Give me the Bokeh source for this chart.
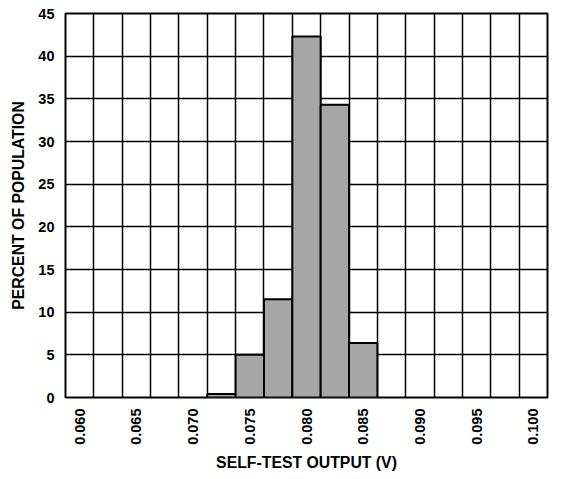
import math
from bokeh.plotting import figure
from bokeh.models import FixedTicker, Range1d, Label
from bokeh.embed import file_html
from bokeh.resources import INLINE

# Data (bin centers in volts, percent of population)
bin_centers = [0.0725, 0.0750, 0.0775, 0.0800, 0.0825, 0.0850]
percent = [0.4, 5.0, 11.5, 42.3, 34.3, 6.4]
bin_width = 0.0025

x_tick_values = [0.060, 0.065, 0.070, 0.075, 0.080, 0.085, 0.090, 0.095, 0.100]
x_tick_labels = ["0.060", "0.065", "0.070", "0.075", "0.080", "0.085", "0.090", "0.095", "0.100"]
y_tick_values = [0, 5, 10, 15, 20, 25, 30, 35, 40, 45]

x_min = 0.060 - bin_width / 2
x_max = 0.100 + bin_width / 2
n_cells = int(round((x_max - x_min) / bin_width))
grid_edges = [x_min + i * bin_width for i in range(n_cells + 1)]

FONT = "Liberation Sans"

p = figure(width=573, height=479, output_backend="svg", toolbar_location=None,
           x_range=Range1d(x_min, x_max), y_range=Range1d(0, 45),
           min_border_left=65, min_border_right=26, min_border_top=13, min_border_bottom=82)

p.vbar(x=bin_centers, top=percent, width=bin_width, bottom=0,
       fill_color="#a6a6a6", line_color="black", line_width=2)

# axes
p.xaxis.ticker = FixedTicker(ticks=x_tick_values)
p.xaxis.major_label_overrides = {v: s for v, s in zip(x_tick_values, x_tick_labels)}
p.yaxis.ticker = FixedTicker(ticks=y_tick_values)
for ax in (p.xaxis, p.yaxis):
    ax.axis_line_color = None
    ax.major_tick_line_color = None
    ax.minor_tick_line_color = None
    ax.major_tick_out = 0
    ax.major_tick_in = 0
    ax.major_label_text_font = FONT
    ax.major_label_text_font_style = "bold"
    ax.major_label_text_font_size = "14.5px"
    ax.major_label_text_color = "black"
    ax.axis_label_text_font = FONT
    ax.axis_label_text_font_style = "bold"
    ax.axis_label_text_font_size = "15.8px"
    ax.axis_label_text_color = "black"
p.xaxis.major_label_orientation = math.pi / 2
p.xaxis.major_label_standoff = 11
p.yaxis.major_label_standoff = 11
p.xaxis.axis_label = "SELF-TEST OUTPUT (V)"
p.yaxis.axis_label = "PERCENT OF POPULATION"
p.xaxis.axis_label_standoff = 6
p.yaxis.axis_label_standoff = 8

# grid
p.xgrid.ticker = FixedTicker(ticks=grid_edges)
p.ygrid.ticker = FixedTicker(ticks=y_tick_values)
for g in (p.xgrid, p.ygrid):
    g.grid_line_color = "#000000"
    g.grid_line_width = 1.5
    g.grid_line_alpha = 1.0

p.outline_line_color = "black"
p.outline_line_width = 2
p.background_fill_color = "white"
p.border_fill_color = "white"

p.add_layout(Label(x=503, y=-79, x_units="screen", y_units="screen",
                   text="03757-114", angle=math.pi / 2,
                   text_font=FONT, text_font_size="11px", text_color="#444444",
                   text_baseline="bottom"))

open("out.html", "w").write(file_html(p, INLINE))
